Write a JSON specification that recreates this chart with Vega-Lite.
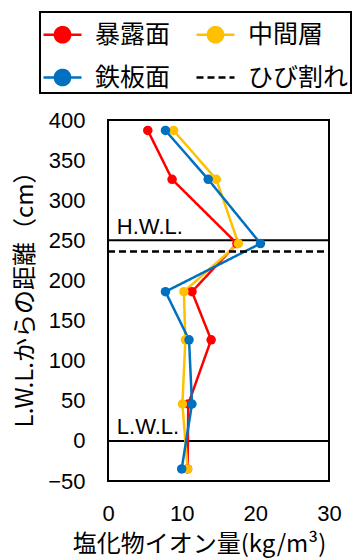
{
  "$schema": "https://vega.github.io/schema/vega-lite/v6.json",
  "width": 221,
  "height": 361,
  "autosize": {"type": "none"},
  "padding": {"left": 108, "top": 120, "right": 26, "bottom": 79},
  "background": "white",
  "config": {
    "view": {"stroke": "black", "strokeWidth": 2},
    "axis": {"grid": false, "ticks": false, "domain": false, "labelFlush": false, "labelColor": "black", "titleColor": "black", "labelFont": "Liberation Sans", "labelFontSize": 22, "titleFont": "Noto Sans CJK JP", "titleFontSize": 24, "titleFontWeight": "normal"}
  },
  "datasets": {
    "profiles": [
      {"series": "暴露面", "x": 5.4, "y": 387},
      {"series": "暴露面", "x": 8.7, "y": 326},
      {"series": "暴露面", "x": 17.5, "y": 246},
      {"series": "暴露面", "x": 11.4, "y": 186},
      {"series": "暴露面", "x": 14.0, "y": 126},
      {"series": "暴露面", "x": 10.9, "y": 46},
      {"series": "暴露面", "x": 10.8, "y": -35},
      {"series": "中間層", "x": 8.9, "y": 387},
      {"series": "中間層", "x": 14.7, "y": 326},
      {"series": "中間層", "x": 17.7, "y": 246},
      {"series": "中間層", "x": 10.3, "y": 186},
      {"series": "中間層", "x": 10.5, "y": 126},
      {"series": "中間層", "x": 10.1, "y": 46},
      {"series": "中間層", "x": 10.8, "y": -35},
      {"series": "鉄板面", "x": 7.8, "y": 387},
      {"series": "鉄板面", "x": 13.6, "y": 326},
      {"series": "鉄板面", "x": 20.7, "y": 246},
      {"series": "鉄板面", "x": 7.8, "y": 186},
      {"series": "鉄板面", "x": 11.0, "y": 126},
      {"series": "鉄板面", "x": 11.4, "y": 46},
      {"series": "鉄板面", "x": 10.0, "y": -35},
      {"series": "ひび割れ", "x": 0, "y": 236},
      {"series": "ひび割れ", "x": 30, "y": 236}
    ],
    "levels": [
      {"name": "H.W.L.", "y": 250, "lx": 1.2, "ly": 258},
      {"name": "L.W.L.", "y": 0, "lx": 1.2, "ly": 9}
    ]
  },
  "layer": [
    {
      "data": {"name": "levels"},
      "mark": {"type": "rule", "color": "black", "strokeWidth": 2},
      "encoding": {"y": {"field": "y", "type": "quantitative"}}
    },
    {
      "data": {"name": "levels"},
      "mark": {"type": "text", "align": "left", "baseline": "alphabetic", "font": "Liberation Sans", "fontSize": 22, "color": "black"},
      "encoding": {
        "x": {"field": "lx", "type": "quantitative"},
        "y": {"field": "ly", "type": "quantitative"},
        "text": {"field": "name"}
      }
    },
    {
      "data": {"name": "profiles"},
      "mark": {"type": "line", "strokeWidth": 2.5},
      "encoding": {
        "x": {"field": "x", "type": "quantitative", "scale": {"domain": [0, 30]}, "axis": {"values": [0, 10, 20, 30], "labelPadding": 22, "title": "塩化物イオン量(kg/m³)", "titleX": 91, "titleY": 63, "titleBaseline": "middle", "titleAlign": "center", "titleAnchor": null}},
        "y": {"field": "y", "type": "quantitative", "scale": {"domain": [-50, 400]}, "axis": {"values": [-50, 0, 50, 100, 150, 200, 250, 300, 350, 400], "labelPadding": 23, "title": "L.W.L.からの距離（cm）", "titleAngle": -90, "titleX": -83, "titleY": 173, "titleAlign": "center", "titleBaseline": "middle"}},
        "order": {"field": "y", "type": "quantitative", "sort": "descending"},
        "color": {
          "field": "series", "type": "nominal",
          "scale": {"domain": ["暴露面", "中間層", "鉄板面", "ひび割れ"], "range": ["#FF0000", "#FFC000", "#0070C0", "#000000"]},
          "legend": {
            "orient": "none", "legendX": -68, "legendY": -108, "columns": 2, "direction": "horizontal", "title": null,
            "labelFont": "Noto Sans CJK JP", "labelFontSize": 25, "labelColor": "black",
            "symbolSize": 1444, "symbolStrokeWidth": 2.5, "labelOffset": 12, "columnPadding": 20, "rowPadding": 9,
            "padding": 2, "strokeColor": "black",
            "encode": {
              "legend": {"update": {"strokeWidth": {"value": 2}}},
              "symbols": {"update": {
                "shape": {"signal": "datum.value === 'ひび割れ' ? 'M-1,0H1' : 'M-1,0H1M0.4,0A0.4,0.4,0,1,1,-0.4,0A0.4,0.4,0,1,1,0.4,0Z'"},
                "strokeDash": {"signal": "datum.value === 'ひび割れ' ? [7,3] : [1,0]"},
                "fill": {"scale": "color", "field": "value"},
                "stroke": {"scale": "color", "field": "value"},
                "opacity": {"value": 1},
                "fillOpacity": {"value": 1},
                "strokeWidth": {"value": 2.5},
                "size": {"value": 1444}
              }}
            }
          }
        },
        "strokeDash": {"field": "series", "type": "nominal", "scale": {"domain": ["暴露面", "中間層", "鉄板面", "ひび割れ"], "range": [[1, 0], [1, 0], [1, 0], [7, 4]]}, "legend": null}
      }
    },
    {
      "data": {"name": "profiles"},
      "transform": [{"filter": "datum.series !== 'ひび割れ'"}],
      "mark": {"type": "point", "filled": true, "opacity": 1, "size": 90, "shape": "circle"},
      "encoding": {
        "x": {"field": "x", "type": "quantitative"},
        "y": {"field": "y", "type": "quantitative"},
        "color": {"field": "series", "type": "nominal"}
      }
    }
  ]
}
